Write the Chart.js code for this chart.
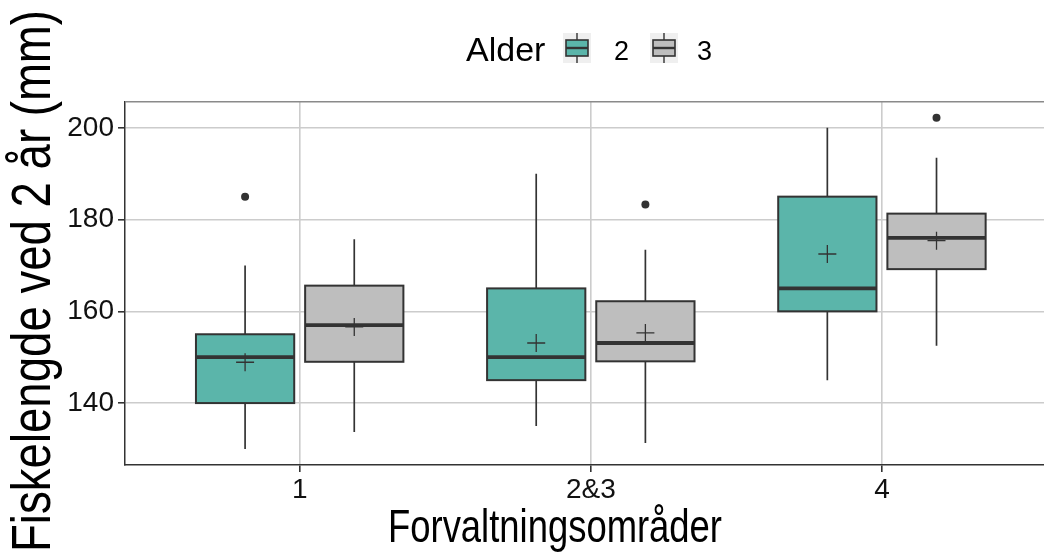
<!DOCTYPE html>
<html>
<head>
<meta charset="utf-8">
<script src="https://cdn.jsdelivr.net/npm/chart.js@4"></script>
<style>
  html, body { margin: 0; padding: 0; background: #fff; overflow: hidden; }
  #wrap { width: 1044px; height: 555px; overflow: hidden; }
</style>
</head>
<body>
<div id="wrap"><canvas id="chart" width="1100" height="555"></canvas></div>
<script>
// data
const categories = ['1', '2&3', '4'];
const ageGroups = ['2', '3'];
const yTicks = [140, 160, 180, 200];

// Alder 2
const age2Low = [130, 135, 145];
const age2Q1 = [140, 145, 160];
const age2Median = [150, 150, 165];
const age2Q3 = [155, 165, 185];
const age2High = [170, 190, 200];
const age2Mean = [148.9, 153.1, 172.5];
const age2Outliers = [[185], [], []];

// Alder 3
const age3Low = [133.7, 131.3, 152.5];
const age3Q1 = [149, 149.1, 169.2];
const age3Median = [157, 153.1, 176];
const age3Q3 = [165.6, 162.2, 181.3];
const age3High = [175.7, 173.4, 193.5];
const age3Mean = [156.6, 155.3, 175.4];
const age3Outliers = [[], [183.3], [202.2]];

const fills = ['#5bb5aa', '#bebebe'];
const dark = '#333333';
const FONT = '"Liberation Sans", Arial, sans-serif';

const series = [
  { low: age2Low, q1: age2Q1, median: age2Median, q3: age2Q3, high: age2High, mean: age2Mean, outliers: age2Outliers },
  { low: age3Low, q1: age3Q1, median: age3Median, q3: age3Q3, high: age3High, mean: age3Mean, outliers: age3Outliers }
];
// dodge: 0.75 wide group, boxes 0.9 of their slot
const dodge = [-0.1875, 0.1875];
const halfBox = 0.16875;

const datasets = [];
series.forEach((s, k) => {
  const outPts = [];
  s.outliers.forEach((list, i) => list.forEach(v => outPts.push({ x: i + dodge[k], y: v })));
  datasets.push({
    label: 'outliers ' + ageGroups[k],
    data: outPts,
    pointStyle: 'circle',
    pointRadius: 4,
    backgroundColor: dark,
    borderColor: dark,
    borderWidth: 0
  });
  datasets.push({
    label: 'mean ' + ageGroups[k],
    data: s.mean.map((v, i) => ({ x: i + dodge[k], y: v })),
    pointStyle: 'cross',
    pointRadius: 9,
    borderColor: dark,
    borderWidth: 1.3,
    backgroundColor: dark
  });
});

const boxPlugin = {
  id: 'boxes',
  beforeDatasetsDraw(chart) {
    const ctx = chart.ctx;
    const xs = chart.scales.x, ys = chart.scales.y;
    const area = chart.chartArea;
    ctx.save();
    ctx.beginPath();
    ctx.rect(area.left, area.top, area.right - area.left, area.bottom - area.top);
    ctx.clip();
    series.forEach((s, k) => {
      categories.forEach((c, i) => {
        const xc = xs.getPixelForValue(i + dodge[k]);
        const x0 = xs.getPixelForValue(i + dodge[k] - halfBox);
        const x1 = xs.getPixelForValue(i + dodge[k] + halfBox);
        const yLow = ys.getPixelForValue(s.low[i]);
        const yQ1 = ys.getPixelForValue(s.q1[i]);
        const yMed = ys.getPixelForValue(s.median[i]);
        const yQ3 = ys.getPixelForValue(s.q3[i]);
        const yHigh = ys.getPixelForValue(s.high[i]);
        ctx.strokeStyle = dark;
        ctx.lineWidth = 1.7;
        ctx.beginPath();
        ctx.moveTo(xc, yHigh); ctx.lineTo(xc, yQ3);
        ctx.moveTo(xc, yQ1); ctx.lineTo(xc, yLow);
        ctx.stroke();
        ctx.fillStyle = fills[k];
        ctx.fillRect(x0, yQ3, x1 - x0, yQ1 - yQ3);
        ctx.lineWidth = 2;
        ctx.strokeRect(x0, yQ3, x1 - x0, yQ1 - yQ3);
        ctx.lineWidth = 3.8;
        ctx.beginPath();
        ctx.moveTo(x0, yMed); ctx.lineTo(x1, yMed);
        ctx.stroke();
      });
    });
    ctx.restore();
  }
};

function squishedText(ctx, text, x, y, size, targetLen, vertical) {
  ctx.save();
  ctx.font = size + 'px ' + FONT;
  const w = ctx.measureText(text).width;
  ctx.translate(x, y);
  if (vertical) ctx.rotate(-Math.PI / 2);
  ctx.scale(targetLen / w, 1);
  ctx.textAlign = 'center';
  ctx.textBaseline = 'alphabetic';
  ctx.fillStyle = '#000';
  ctx.fillText(text, 0, 0);
  ctx.restore();
}

const decorPlugin = {
  id: 'decor',
  afterDraw(chart) {
    const ctx = chart.ctx;
    const area = chart.chartArea;
    // top panel border
    ctx.save();
    ctx.strokeStyle = '#8a8a8a';
    ctx.lineWidth = 1.5;
    ctx.beginPath();
    ctx.moveTo(area.left, area.top);
    ctx.lineTo(area.right, area.top);
    ctx.stroke();
    ctx.restore();

    // axis titles
    squishedText(ctx, 'Forvaltningsområder', 555, 542, 46, 334, false);
    squishedText(ctx, 'Fiskelengde ved 2 år (mm)', 50, 281, 55, 542, true);

    // legend
    ctx.save();
    ctx.fillStyle = '#000';
    ctx.textBaseline = 'alphabetic';
    ctx.textAlign = 'left';
    ctx.font = '34px ' + FONT;
    ctx.fillText('Alder', 466, 61);
    const keyCenters = [577, 664];
    const labelX = [614, 697];
    ageGroups.forEach((g, k) => {
      const cx = keyCenters[k], cy = 48;
      ctx.fillStyle = '#efefef';
      ctx.fillRect(cx - 14, cy - 15, 28, 30);
      ctx.strokeStyle = dark;
      ctx.lineWidth = 1.4;
      ctx.beginPath();
      ctx.moveTo(cx, cy - 15); ctx.lineTo(cx, cy + 15);
      ctx.stroke();
      ctx.fillStyle = fills[k];
      ctx.fillRect(cx - 11, cy - 8, 22, 16);
      ctx.lineWidth = 1.6;
      ctx.strokeRect(cx - 11, cy - 8, 22, 16);
      ctx.lineWidth = 2.4;
      ctx.beginPath();
      ctx.moveTo(cx - 11, cy); ctx.lineTo(cx + 11, cy);
      ctx.stroke();
      ctx.fillStyle = '#000';
      ctx.font = '27px ' + FONT;
      ctx.fillText(g, labelX[k], 60);
    });
    ctx.restore();
  }
};

new Chart(document.getElementById('chart'), {
  type: 'scatter',
  data: { datasets: datasets },
  plugins: [boxPlugin, decorPlugin],
  options: {
    responsive: false,
    devicePixelRatio: 1,
    animation: false,
    events: [],
    layout: { padding: { left: 0, top: 101.7, right: 43.4, bottom: 0 } },
    plugins: { legend: { display: false }, tooltip: { enabled: false } },
    scales: {
      x: {
        type: 'linear',
        min: -0.6,
        max: 2.6,
        afterBuildTicks: (scale) => { scale.ticks = categories.map((c, i) => ({ value: i })); },
        afterFit: (scale) => { scale.height = 90; },
        ticks: {
          callback: (v) => categories[v],
          font: { family: FONT, size: 28 },
          color: '#111',
          padding: 1,
          maxRotation: 0
        },
        grid: { color: '#cccccc', lineWidth: 1.6, tickLength: 7, tickColor: dark },
        border: { display: true, color: dark, width: 1.5 }
      },
      y: {
        min: 126.5,
        max: 205.7,
        afterBuildTicks: (scale) => { scale.ticks = yTicks.map(v => ({ value: v })); },
        afterFit: (scale) => { scale.width = 125; },
        ticks: {
          font: { family: FONT, size: 28 },
          color: '#111',
          padding: 4
        },
        grid: { color: '#cccccc', lineWidth: 1.6, tickLength: 7, tickColor: dark },
        border: { display: true, color: dark, width: 1.5 }
      }
    }
  }
});
</script>
</body>
</html>
